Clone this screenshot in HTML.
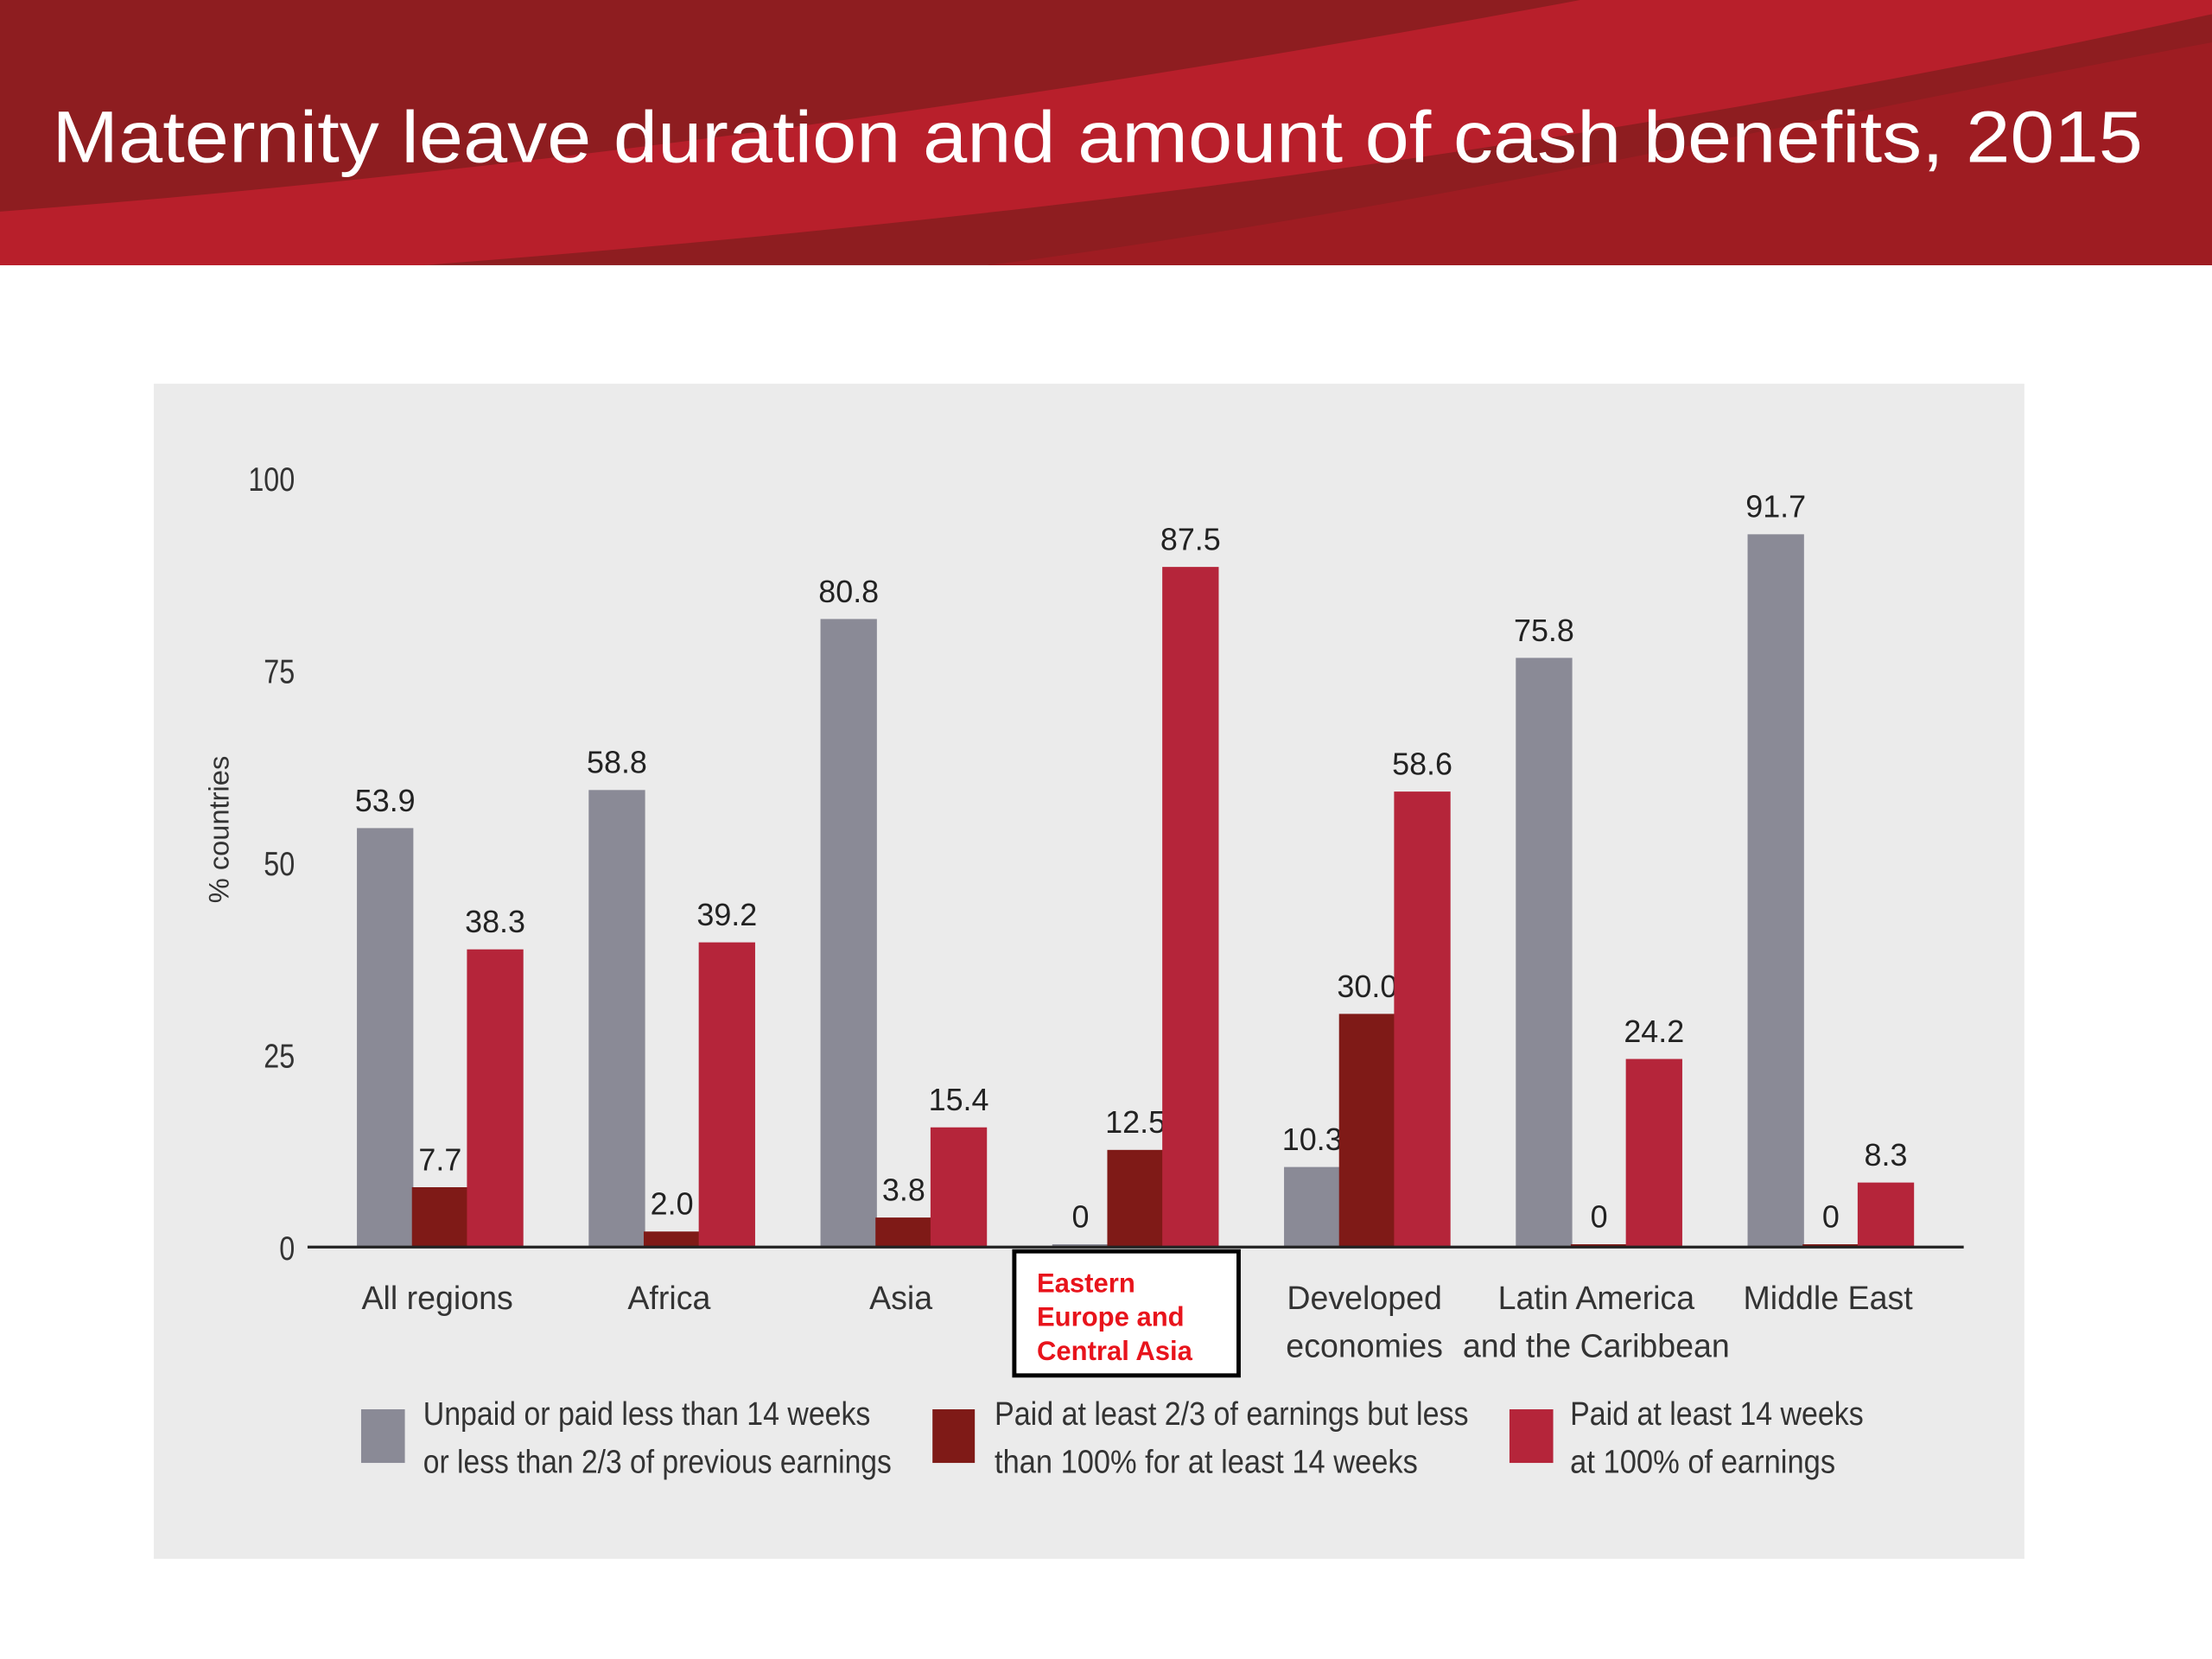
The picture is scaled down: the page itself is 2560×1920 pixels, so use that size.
<!DOCTYPE html>
<html><head><meta charset="utf-8"><style>
html,body{margin:0;padding:0;background:#fff;}
svg{display:block;}
text{font-family:"Liberation Sans",sans-serif;}
</style></head><body>
<svg id="chart" width="2560" height="1920" viewBox="0 0 1568 1176" xmlns="http://www.w3.org/2000/svg">
  <g>
    <rect x="0" y="0" width="1568" height="188" fill="#8e1d20"/>
    <path d="M0,150 C400,120 800,60 1120,0 L1568,0 L1568,10 C1200,90 800,150 300,188 L0,188 Z" fill="#b81f2b"/>
    <path d="M700,188 C1000,150 1300,80 1568,30 L1568,188 Z" fill="#9e1c22"/>
    <text x="37" y="115" font-size="52" fill="#fff" textLength="1482" lengthAdjust="spacingAndGlyphs">Maternity leave duration and amount of cash benefits, 2015</text>
  </g>
  <rect x="109" y="272" width="1326" height="833" fill="#ebebeb"/>
  <text transform="translate(162,588) rotate(-90)" font-size="20" fill="#333" text-anchor="middle">% countries</text>
  <g id="yticks"></g>
  <g id="bars"></g>
  <line x1="218" y1="884" x2="1392" y2="884" stroke="#222" stroke-width="2"/>
  <rect x="719" y="887" width="159" height="88" fill="#fff" stroke="#000" stroke-width="3"/>
  <g id="xlabels"></g>
  <g>
    <rect x="256" y="999" width="31" height="38" fill="#8a8a96"/>
    <text x="300" y="1010" font-size="23" fill="#333" textLength="317" lengthAdjust="spacingAndGlyphs">Unpaid or paid less than 14 weeks</text>
    <text x="300" y="1044" font-size="23" fill="#333" textLength="332" lengthAdjust="spacingAndGlyphs">or less than 2/3 of previous earnings</text>
    <rect x="661" y="999" width="30" height="38" fill="#7f1a17"/>
    <text x="705" y="1010" font-size="23" fill="#333" textLength="336" lengthAdjust="spacingAndGlyphs">Paid at least 2/3 of earnings but less</text>
    <text x="705" y="1044" font-size="23" fill="#333" textLength="300" lengthAdjust="spacingAndGlyphs">than 100% for at least 14 weeks</text>
    <rect x="1070" y="999" width="31" height="38" fill="#b5253a"/>
    <text x="1113" y="1010" font-size="23" fill="#333" textLength="208" lengthAdjust="spacingAndGlyphs">Paid at least 14 weeks</text>
    <text x="1113" y="1044" font-size="23" fill="#333" textLength="188" lengthAdjust="spacingAndGlyphs">at 100% of earnings</text>
  </g>
</svg>
<script>
const categories = [["All regions"],["Africa"],["Asia"],["Eastern","Europe and","Central Asia"],["Developed","economies"],["Latin America","and the Caribbean"],["Middle East"]];
const unpaid = [53.9, 58.8, 80.8, 0, 10.3, 75.8, 91.7];
const partial = [7.7, 2.0, 3.8, 12.5, 30.0, 0, 0];
const full = [38.3, 39.2, 15.4, 87.5, 58.6, 24.2, 8.3];
const unpaidLabels = ["53.9","58.8","80.8","0","10.3","75.8","91.7"];
const partialLabels = ["7.7","2.0","3.8","12.5","30.0","0","0"];
const fullLabels = ["38.3","39.2","15.4","87.5","58.6","24.2","8.3"];
const yTicks = [0, 25, 50, 75, 100];

const NS = "http://www.w3.org/2000/svg";
const K = 5.51;
const y = v => 884 - v * K;
const yTickPos = v => 884 - v * 5.45;
const xc = i => 312 + i * 164.3;
function mk(tag, attrs, parent){const e=document.createElementNS(NS,tag);for(const k in attrs)e.setAttribute(k,attrs[k]);parent.appendChild(e);return e;}

const yt = document.getElementById('yticks');
yTicks.forEach(t=>{
  const e = mk('text',{x:209,y:yTickPos(t)+9,'font-size':24,'text-anchor':'end',fill:'#333',textLength:String(t).length*11,lengthAdjust:'spacingAndGlyphs'},yt);
  
  
  e.textContent = t;
});

const bars = document.getElementById('bars');
const series = [[unpaid,unpaidLabels,'#8a8a96',-39,'unpaid'],[partial,partialLabels,'#7f1a17',0,'partial'],[full,fullLabels,'#b5253a',39,'full']];
categories.forEach((c,i)=>{
  series.forEach(([vals,labs,col,off,nm])=>{
    const v = vals[i];
    const h = Math.max(v*K, 2);
    const r = mk('rect',{x:xc(i)+off-20,y:884-h,width:40,height:h,fill:col},bars);
    
    
    const t = mk('text',{x:xc(i)+off,y:884-h-12,'font-size':22,'text-anchor':'middle',fill:'#222'},bars);
    
    
    t.textContent = labs[i];
  });
});

const xl = document.getElementById('xlabels');
categories.forEach((c,i)=>{
  c.forEach((line,j)=>{
    let t;
    if(i===3){
      t = mk('text',{x:735,y:916+j*24,'font-size':19,'font-weight':'bold',fill:'#e8141c'},xl);
    } else {
      t = mk('text',{x:xc(i)-2,y:928+j*34,'font-size':23,'text-anchor':'middle',fill:'#333'},xl);
    }
    
    
    t.textContent = line;
  });
});
</script>
</body></html>
